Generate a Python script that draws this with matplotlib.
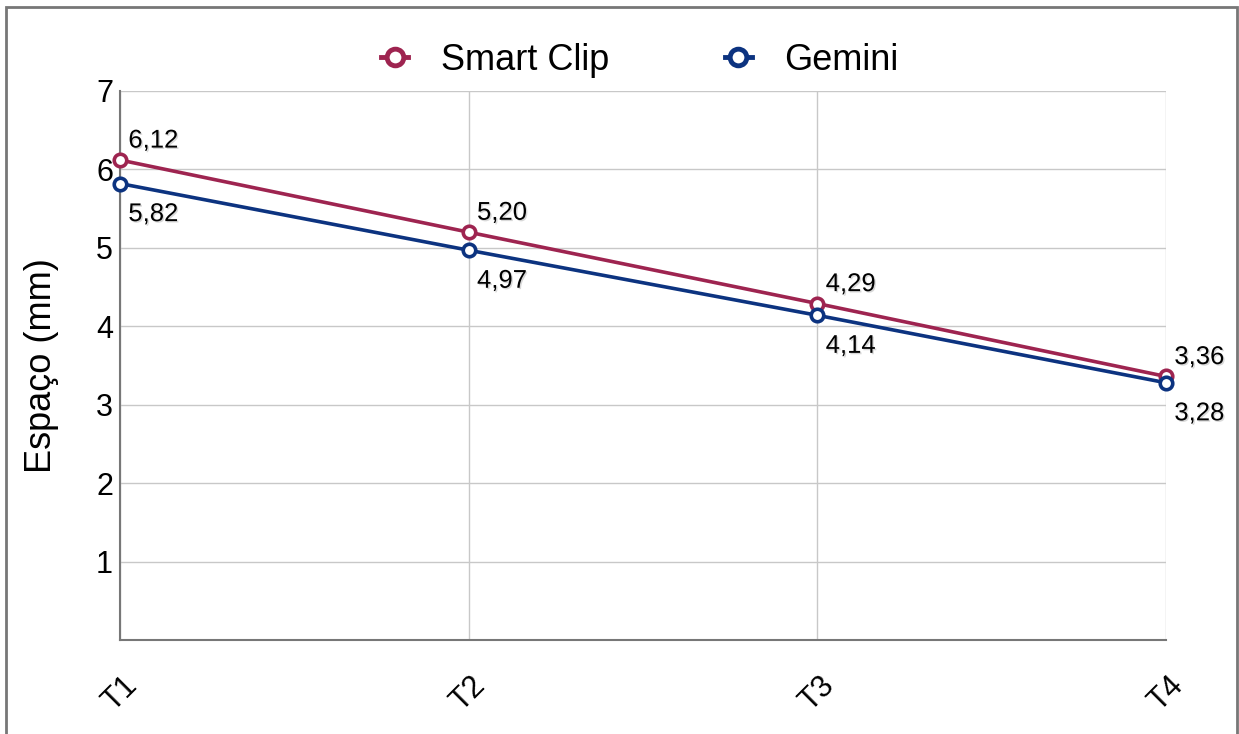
import matplotlib
matplotlib.use("Agg")
import matplotlib.pyplot as plt
import matplotlib.patheffects as pe
from matplotlib.patches import Rectangle
from matplotlib.lines import Line2D

categories = ["T1", "T2", "T3", "T4"]
smart_clip = [6.12, 5.20, 4.29, 3.36]
gemini = [5.82, 4.97, 4.14, 3.28]
series_names = ["Smart Clip", "Gemini"]
yticks = [1, 2, 3, 4, 5, 6, 7]

c_smart = "#9e2450"
c_gem = "#0c3380"

plt.rcParams['font.family'] = ['Liberation Sans', 'DejaVu Sans']

fig = plt.figure(figsize=(12.39, 7.34), dpi=100)
fig.patches.append(Rectangle((6/1239, -0.05), (1237-6)/1239, 1.05 - 7/734,
                             transform=fig.transFigure, fill=False,
                             edgecolor="#777777", linewidth=2))
ax = fig.add_axes([120/1239, 1-640/734, (1166-120)/1239, (640-91)/734])

x = list(range(len(categories)))
ax.plot(x, smart_clip, color=c_smart, lw=2.6, marker='o', ms=9, mfc='white',
        mec=c_smart, mew=2.6, zorder=3, clip_on=False)
ax.plot(x, gemini, color=c_gem, lw=2.6, marker='o', ms=9, mfc='white',
        mec=c_gem, mew=2.6, zorder=3, clip_on=False)

shadow = [pe.withSimplePatchShadow(offset=(1.0, -1.0), shadow_rgbFace='#666666', alpha=0.25)]
fmt = lambda v: f"{v:.2f}".replace('.', ',')
for xi, v in zip(x, smart_clip):
    ax.annotate(fmt(v), (xi, v), xytext=(6, 14), textcoords='offset points',
                ha='left', va='center', fontsize=18.5, path_effects=shadow,
                annotation_clip=False)
for xi, v in zip(x, gemini):
    ax.annotate(fmt(v), (xi, v), xytext=(6, -22), textcoords='offset points',
                ha='left', va='center', fontsize=18.5, path_effects=shadow,
                annotation_clip=False)

ax.set_xlim(0, 3)
ax.set_ylim(0, 7)
ax.set_yticks(yticks)
ax.set_yticklabels([str(t) for t in yticks])
ax.set_xticks(x)
ax.set_xticklabels(categories, rotation=45, ha='center', va='top')
ax.tick_params(axis='y', length=0, pad=5, labelsize=22)
ax.tick_params(axis='x', length=0, pad=22, labelsize=22)
ax.grid(True, color="#c8c8c8", lw=1)
ax.set_axisbelow(True)
for s in ['top', 'right']:
    ax.spines[s].set_visible(False)
for s in ['left', 'bottom']:
    ax.spines[s].set_color("#777777")
    ax.spines[s].set_linewidth(1.5)
ax.set_ylabel("Espaço (mm)", fontsize=26, labelpad=27)

handles = [Line2D([], [], color=c, lw=3.5, marker='o', ms=12, mfc='white', mec=c, mew=3.5)
           for c in (c_smart, c_gem)]
fig.legend(handles, series_names, loc='center', bbox_to_anchor=(640/1239, 1-60/734),
           ncol=2, frameon=False, fontsize=26, handlelength=0.75, columnspacing=3.2,
           handletextpad=0.9)

fig.savefig("out.png", dpi=100)
